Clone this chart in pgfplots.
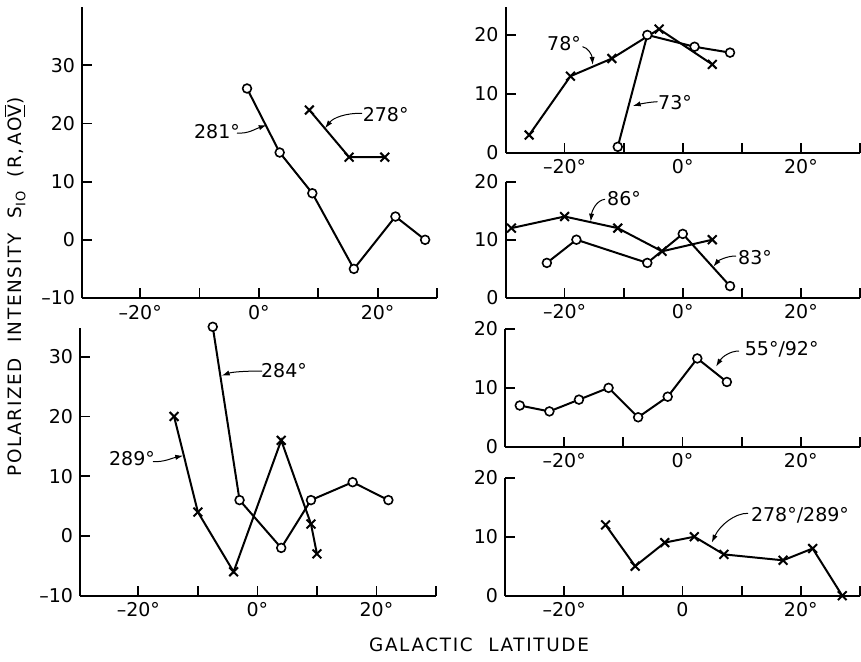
\documentclass[border=0pt]{standalone}
\usepackage{fontspec}
\setmainfont{DejaVu Sans}
\usepackage{pgfplots}
\pgfplotsset{compat=1.18}
\usetikzlibrary{arrows.meta}

\newcommand\lab{\fontsize{9.5}{10}\selectfont}
\newcommand\ttl{\fontsize{9.2}{10}\selectfont\addfontfeature{LetterSpace=9}}

\pgfplotsset{
  panel/.style={
    scale only axis, anchor=south west, clip=false,
    axis x line=bottom, axis y line=left,
    axis line style={-, line width=1pt},
    tick align=inside, major tick length=5pt,
    tick style={black, line width=0.9pt},
    xmin=-30, xmax=30,
    xtick={-20,-10,0,10,20,30},
    xticklabels={–20°,,0°,,20°,},
    ticklabel style={font=\lab},
    /pgf/number format/assume math mode=true,
  },
  circ/.style={black, line width=1pt, mark=*, mark size=2.2pt,
    mark options={fill=white, draw=black, line width=0.8pt}},
  crs/.style={black, line width=1pt, mark=x, mark size=3.1pt,
    mark options={line width=1pt}},
}

\begin{document}
\begin{tikzpicture}
\useasboundingbox (0,0) rectangle (430.5pt,330.5pt);

% top left
\begin{axis}[panel, at={(41pt,181.5pt)}, width=177.5pt, height=145.5pt,
  xmin=-29.8, ymin=-10, ymax=40,
  ytick={-10,0,10,20,30}, yticklabels={–10,0,10,20,30}]
\addplot[circ] coordinates {(-2,26)(3.5,15)(9,8)(16,-5)(23,4)(28,0)};
\addplot[crs] coordinates {(8.5,22.3)(15.2,14.2)(21.2,14.2)};
\end{axis}

% bottom left
\begin{axis}[panel, at={(40pt,32.65pt)}, width=178pt, height=133.7pt,
  xmin=-29.8, ymin=-10, ymax=34.75,
  ytick={-10,0,10,20,30}, yticklabels={–10,0,10,20,30}]
\addplot[circ] coordinates {(-7.5,35)(-3,6)(4,-2)(9,6)(16,9)(22,6)};
\addplot[crs] coordinates {(-14,20)(-10,4)(-4,-6)(4,16)(9,2)(10,-3)};
\end{axis}

% right, 78 / 73
\begin{axis}[panel, at={(252.75pt,254.15pt)}, width=177.25pt, height=72.7pt,
  ymin=0, ymax=24.7, ytick={0,10,20}]
\addplot[crs] coordinates {(-26,3)(-19,13)(-12,16)(-4,21)(5,15)};
\addplot[circ] coordinates {(-11,1)(-6,20)(2,18)(8,17)};
\end{axis}

% right, 86 / 83
\begin{axis}[panel, at={(252.75pt,181.65pt)}, width=177.25pt, height=58pt,
  ymin=0, ymax=20, ytick={0,10,20}]
\addplot[crs] coordinates {(-29,12)(-20,14)(-11,12)(-3.5,8)(5,10)};
\addplot[circ] coordinates {(-23,6)(-18,10)(-6,6)(0,11)(8,2)};
\end{axis}

% right, 55/92
\begin{axis}[panel, at={(252.5pt,107.15pt)}, width=177.5pt, height=58.85pt,
  ymin=0, ymax=20, ytick={0,10,20}]
\addplot[circ] coordinates {(-27.5,7)(-22.5,6)(-17.5,8)(-12.5,10)(-7.5,5)(-2.5,8.5)(2.5,15)(7.5,11)};
\end{axis}

% right, 278/289
\begin{axis}[panel, at={(252.5pt,32.65pt)}, width=177.5pt, height=59pt,
  ymin=0, ymax=20, ytick={0,10,20}, xticklabels={–20°,,0,,20°,}]
\addplot[crs] coordinates {(-13,12)(-8,5)(-3,9)(2,10)(7,7)(17,6)(22,8)(27,0)};
\end{axis}

% labels and pointers, in pixel units of the reference
\begin{scope}[shift={(0,330.5pt)}, x=0.5pt, y=-0.5pt, font=\lab]
\tikzset{ptr/.style={line width=0.5pt, -{Latex[length=4pt,width=2.6pt]}}}
\node at (217,131.7) {281°};
\draw[ptr] (237,133) .. controls (248,134) and (255,129) .. (266.7,125);
\node at (385.7,114.5) {278°};
\draw[ptr] (362,113.3) .. controls (345,113) and (333,118) .. (325,128.3);
\node at (564,44) {78°};
\draw[ptr] (582.5,46.7) .. controls (588,47.5) and (592,55) .. (592.7,65);
\node at (675,102.5) {73°};
\draw[ptr] (657.5,101.7) .. controls (650,102) and (640,104) .. (632.7,106);
\node at (624,199) {86°};
\draw[ptr] (605,199.3) .. controls (597,200) and (592,210) .. (590.7,221.7);
\node at (755,257.5) {83°};
\draw[ptr] (736,256) .. controls (726,256) and (718,261) .. (713.3,266.7);
\node at (781.7,349) {55°/92°};
\draw[ptr] (739,351) .. controls (730,351) and (722,357) .. (716,366.7);
\node at (800,515.5) {278°/289°};
\draw[ptr] (748,513.3) .. controls (735,513) and (720,525) .. (711.7,542.7);
\node at (132,459) {289°};
\draw[ptr] (153,461.7) .. controls (165,462) and (172,458) .. (183.3,455.7);
\node at (284,370.5) {284°};
\draw[ptr] (262,371) .. controls (245,371) and (232,372) .. (221.7,375.7);
\node[font=\ttl] at (479,645) {GALACTIC\hspace{4pt} LATITUDE};
\node[font=\ttl, rotate=90] at (15,287)
  {POLARIZED\hspace{4pt} INTENSITY\hspace{4pt} S{\fontsize{6.5}{7}\selectfont\raisebox{-0.5ex}{IO}}\hspace{3pt} (R,\,AO$\overline{\underline{\mbox{V}}}$)};
\end{scope}
\end{tikzpicture}
\end{document}
